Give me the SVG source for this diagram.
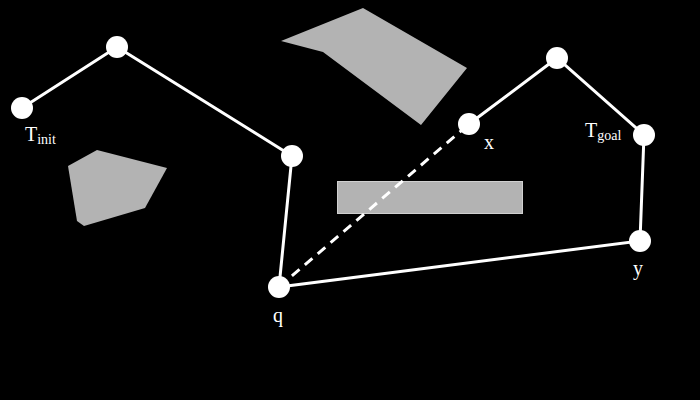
<svg xmlns="http://www.w3.org/2000/svg" width="700" height="400" viewBox="0 0 700 400">
<style>
.obs{fill:#b3b3b3}
.edge{stroke:#fff;stroke-width:3;fill:none}
.dash{stroke-dasharray:10 7}
.node{fill:#fff}
.lbl{fill:#fff;font-family:"Liberation Serif",serif;font-size:20px}
.sub{font-size:14px}
</style>
<rect width="700" height="400" fill="#000"/>
<g id="obstacles">
<polygon class="obs" points="281,41 363,8 467,68 421,125 323,52"/>
<polygon class="obs" points="68,166 97,150 167,168 145,208 84,226 77,221"/>
<rect class="obs" x="337.5" y="181.5" width="185" height="32" stroke="#d0d0d0" stroke-width="1"/>
</g>
<g id="connectors">
<polyline class="edge" points="22,108 117,47 292,156 279,287 640,241 644,135 557,58 469,124"/>
<line class="edge dash" x1="279" y1="287" x2="469" y2="124"/>
</g>
<g id="n-tinit"><circle class="node" cx="22" cy="108" r="11"/><text class="lbl" x="25" y="141">T<tspan class="sub" dy="3">init</tspan></text></g>
<g id="n-a"><circle class="node" cx="117" cy="47" r="11"/></g>
<g id="n-b"><circle class="node" cx="292" cy="156" r="11"/></g>
<g id="n-q"><circle class="node" cx="279" cy="287" r="11"/><text class="lbl" x="273" y="322">q</text></g>
<g id="n-x"><circle class="node" cx="469" cy="124" r="11"/><text class="lbl" x="484" y="149">x</text></g>
<g id="n-c"><circle class="node" cx="557" cy="58" r="11"/></g>
<g id="n-tgoal"><circle class="node" cx="644" cy="135" r="11"/><text class="lbl" x="585" y="137">T<tspan class="sub" dy="3">goal</tspan></text></g>
<g id="n-y"><circle class="node" cx="640" cy="241" r="11"/><text class="lbl" x="633" y="275">y</text></g>
</svg>
